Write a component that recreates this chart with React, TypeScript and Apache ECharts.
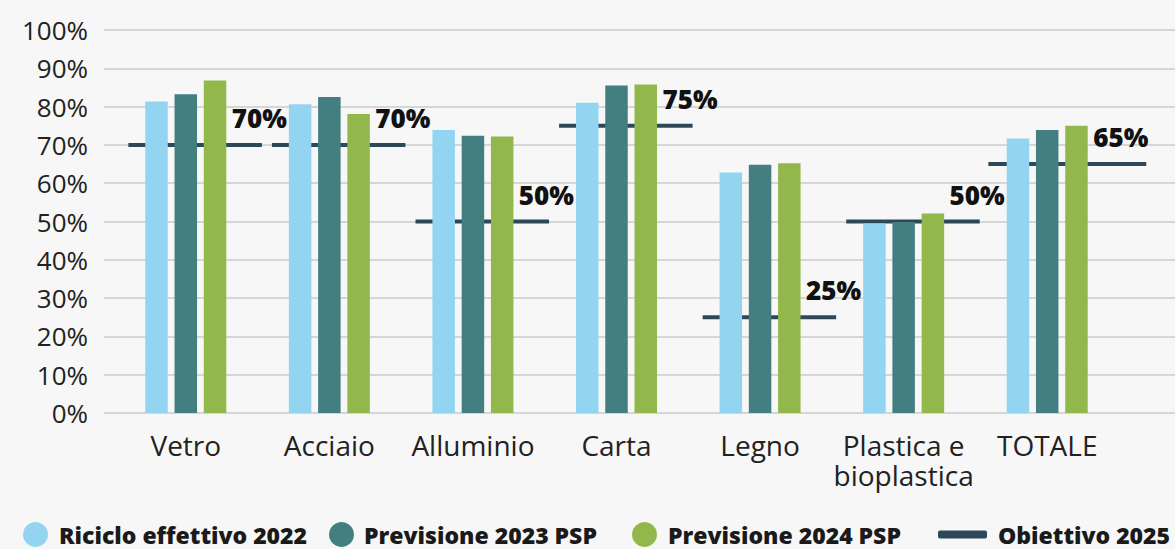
import React, { useEffect, useRef } from "react";
import * as echarts from "echarts";

const categories = ["Vetro", "Acciaio", "Alluminio", "Carta", "Legno", "Plastica e\nbioplastica", "TOTALE"];
const riciclo2022 = [81.3, 80.6, 73.9, 81.0, 62.8, 49.5, 71.7];
const previsione2023 = [83.2, 82.5, 72.4, 85.5, 64.8, 49.9, 73.9];
const previsione2024 = [86.8, 78.1, 72.2, 85.8, 65.2, 52.1, 75.0];
const obiettivo2025 = [70, 70, 50, 75, 25, 50, 65];
const yTicks = { min: 0, max: 100, interval: 10 };

const seriesNames = ["Riciclo effettivo 2022", "Previsione 2023 PSP", "Previsione 2024 PSP", "Obiettivo 2025"];
const colors = ["#93d5f0", "#437f80", "#92b84c", "#2d4858"];

export default function App() {
  const ref = useRef<HTMLDivElement>(null);
  useEffect(() => {
    if (!ref.current) return;
    const chart = echarts.init(ref.current, null, { renderer: "svg" });
    const font = "'Open Sans', sans-serif";
    const legendBase = (name: string, left: number, icon: string, w: number, h: number, pad: number) => ({
      data: [{ name, icon }],
      left,
      top: 522,
      padding: 0,
      itemWidth: w,
      itemHeight: h,
      textStyle: {
        fontFamily: font,
        fontSize: 23,
        fontWeight: 800,
        color: "#1a1a1a",
        lineHeight: 25,
        padding: [0, 0, 0, pad],
      },
    });
    chart.setOption({
      animation: false,
      backgroundColor: "#f7f7f7",
      grid: [
        { left: 104, right: 0, top: 30, bottom: 136 },
        { left: 114, right: 56, top: 30, bottom: 136 },
      ],
      xAxis: [
        { type: "category", gridIndex: 0, data: categories, show: false },
        {
          type: "category",
          gridIndex: 1,
          data: categories,
          axisLine: { show: false },
          axisTick: { show: false },
          axisLabel: { fontFamily: font, fontSize: 28, color: "#222", margin: 17, lineHeight: 30, interval: 0 },
        },
      ],
      yAxis: [
        {
          type: "value",
          gridIndex: 0,
          ...yTicks,
          axisLine: { show: false },
          axisTick: { show: false },
          axisLabel: { formatter: "{value}%", fontFamily: font, fontSize: 26, color: "#222", margin: 16 },
          splitLine: { lineStyle: { color: "#cbcbcb", width: 1.5 } },
        },
        { type: "value", gridIndex: 1, ...yTicks, show: false, splitLine: { show: false } },
      ],
      legend: [
        legendBase(seriesNames[0], 23, "circle", 25, 25, 6),
        legendBase(seriesNames[1], 329, "circle", 25, 25, 5),
        legendBase(seriesNames[2], 632, "circle", 25, 25, 6),
        legendBase(seriesNames[3], 938, "roundRect", 49, 8, 6),
      ],
      series: [
        { name: seriesNames[0], type: "bar", xAxisIndex: 1, yAxisIndex: 1, data: riciclo2022, barWidth: 22.5, barGap: "30%", itemStyle: { color: colors[0] } },
        { name: seriesNames[1], type: "bar", xAxisIndex: 1, yAxisIndex: 1, data: previsione2023, barWidth: 22.5, barGap: "30%", itemStyle: { color: colors[1] } },
        { name: seriesNames[2], type: "bar", xAxisIndex: 1, yAxisIndex: 1, data: previsione2024, barWidth: 22.5, barGap: "30%", itemStyle: { color: colors[2] } },
        {
          name: seriesNames[3],
          type: "custom",
          xAxisIndex: 1,
          yAxisIndex: 1,
          itemStyle: { color: colors[3] },
          data: obiettivo2025.map((v, i) => [i, v]),
          renderItem: (params: any, api: any) => {
            const idx = api.value(0);
            const v = api.value(1);
            const [cx, cy] = api.coord([idx, v]);
            const w = api.size([1, 0])[0];
            const last = idx === categories.length - 1;
            const x1 = cx - (last ? 0.41 : 0.40) * w;
            const x2 = cx + (last ? 0.69 : 0.53) * w;
            return {
              type: "group",
              children: [
                { type: "line", shape: { x1, y1: cy, x2, y2: cy }, style: { stroke: colors[3], lineWidth: 4 } },
                {
                  type: "text",
                  style: {
                    text: v + "%",
                    x: cx + 0.32 * w,
                    y: cy - 27,
                    verticalAlign: "middle",
                    align: "left",
                    fill: "#111",
                    font: `800 26px ${font}`,
                  },
                },
              ],
            };
          },
        },
      ],
    });
    return () => chart.dispose();
  }, []);
  return <div ref={ref} style={{ position: "fixed", left: 0, top: 0, width: 1175, height: 549 }} />;
}
